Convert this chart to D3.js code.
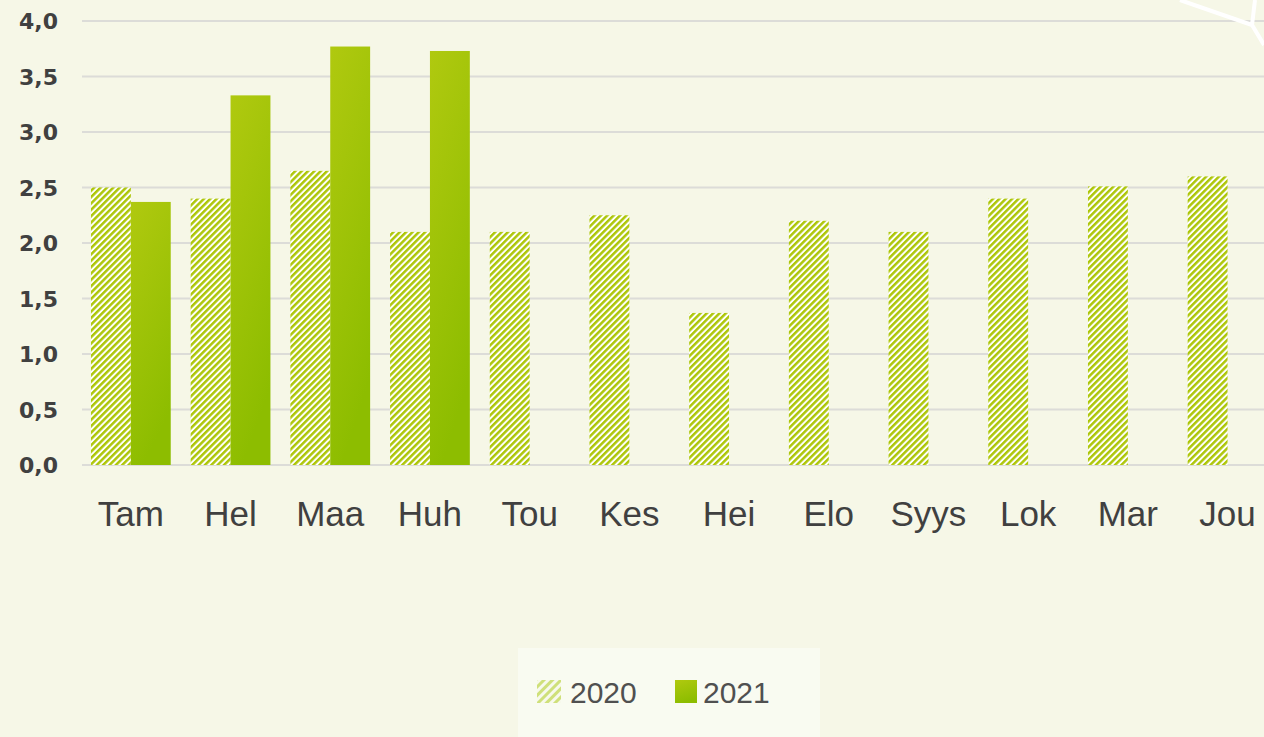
<!DOCTYPE html>
<html><head><meta charset="utf-8">
<script src="https://cdn.jsdelivr.net/npm/d3@7"></script>
<style>html,body{margin:0;padding:0;background:#f6f7e7;overflow:hidden}</style>
</head><body>
<svg id="c" width="1264" height="737"></svg>
<script>
const months = ["Tam","Hel","Maa","Huh","Tou","Kes","Hei","Elo","Syys","Lok","Mar","Jou"];
const series = ["2020","2021"];
const values2020 = [2.5,2.4,2.65,2.1,2.1,2.25,1.37,2.2,2.1,2.4,2.51,2.6];
const values2021 = [2.37,3.33,3.77,3.73,null,null,null,null,null,null,null,null];
const yTicks = [0,0.5,1,1.5,2,2.5,3,3.5,4];

const svg = d3.select("#c");
svg.append("rect").attr("width",1264).attr("height",737).attr("fill","#f6f7e7");

const defs = svg.append("defs");
const pat = defs.append("pattern").attr("id","stripes").attr("patternUnits","userSpaceOnUse")
  .attr("width",4.5).attr("height",4.5).attr("patternTransform","rotate(45)");
pat.append("rect").attr("width",4.5).attr("height",4.5).attr("fill","#ffffff");
pat.append("rect").attr("width",2.5).attr("height",4.5).attr("fill","#adc608");

const patL = defs.append("pattern").attr("id","stripesL").attr("patternUnits","userSpaceOnUse")
  .attr("width",6).attr("height",6).attr("patternTransform","rotate(45)");
patL.append("rect").attr("width",6).attr("height",6).attr("fill","#f7f9ec");
patL.append("rect").attr("width",3).attr("height",6).attr("fill","#cfe07a");

const grad = defs.append("linearGradient").attr("id","g21").attr("gradientUnits","objectBoundingBox")
  .attr("x1",0).attr("y1",0).attr("x2",0.3).attr("y2",1);
grad.append("stop").attr("offset","0%").attr("stop-color","#b0c90f");
grad.append("stop").attr("offset","100%").attr("stop-color","#8dbd00");

const x = d3.scaleBand().domain(months).range([81, 81+12*99.7]).paddingInner(0.2).paddingOuter(0.1);
const x1 = d3.scaleBand().domain(series).range([0, x.bandwidth()]);
const y = d3.scaleLinear().domain([0,4]).range([465,21]);

// gridlines
svg.append("g").selectAll("line").data(yTicks).join("line")
  .attr("x1",82).attr("x2",1264).attr("y1",d=>y(d)).attr("y2",d=>y(d))
  .attr("stroke","#dcdcd8").attr("stroke-width",2.2);

// y labels
const yAxis = d3.axisLeft(y).tickValues(yTicks).tickFormat(d=>d3.format(".1f")(d).replace(".",",")).tickSize(0).tickPadding(0);
const ya = svg.append("g").attr("transform","translate(58,0)").call(yAxis);
ya.select(".domain").remove();
ya.selectAll("text").attr("font-family","DejaVu Sans").attr("font-weight","bold").attr("font-size",22)
  .attr("fill","#404040").attr("dy","0.36em");

// decoration top right
svg.append("polyline").attr("points","1180,0 1252,25 1264,45").attr("fill","none").attr("stroke","#ffffff").attr("stroke-width",4);
svg.append("line").attr("x1",1255).attr("y1",0).attr("x2",1252).attr("y2",25).attr("stroke","#ffffff").attr("stroke-width",4);

// bars 2020
svg.append("g").selectAll("rect").data(months).join("rect")
  .attr("x",(m)=>x(m)+x1("2020")).attr("width",x1.bandwidth())
  .attr("y",(m,i)=>y(values2020[i])).attr("height",(m,i)=>y(0)-y(values2020[i]))
  .attr("fill","url(#stripes)");
// bars 2021
svg.append("g").selectAll("rect").data(months.filter((m,i)=>values2021[i]!=null)).join("rect")
  .attr("x",(m)=>x(m)+x1("2021")).attr("width",x1.bandwidth())
  .attr("y",(m)=>y(values2021[months.indexOf(m)])).attr("height",(m)=>y(0)-y(values2021[months.indexOf(m)]))
  .attr("fill","url(#g21)");

// x labels
const xAxis = d3.axisBottom(x).tickSize(0).tickPadding(0);
const xa = svg.append("g").attr("transform","translate(0,465)").call(xAxis);
xa.select(".domain").remove();
xa.selectAll("text").attr("font-family","Liberation Sans, Arial, sans-serif").attr("font-size",35)
  .attr("fill","#404040").attr("dy",null).attr("y",61);

// legend
const lg = svg.append("g");
lg.append("rect").attr("x",518).attr("y",648).attr("width",302).attr("height",89).attr("fill","#f9fbf1");
lg.append("rect").attr("x",537).attr("y",680).attr("width",24).attr("height",23).attr("fill","url(#stripesL)");
lg.append("rect").attr("x",675).attr("y",680).attr("width",22).attr("height",23).attr("fill","url(#g21)");
lg.selectAll("text.l").data(series).join("text").attr("class","l")
  .attr("x",(d,i)=>i===0?570:703).attr("y",703)
  .attr("font-family","Liberation Sans, Arial, sans-serif").attr("font-size",30)
  .attr("fill","#505050").text(d=>d);
</script>
</body></html>
